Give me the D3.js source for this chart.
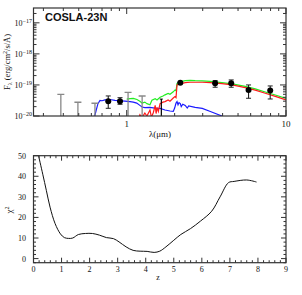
<!DOCTYPE html>
<html>
<head>
<meta charset="utf-8">
<script src="https://cdn.jsdelivr.net/npm/d3@7"></script>
<style>
  html, body { margin: 0; padding: 0; background: #fff; }
  svg { display: block; }
  text { font-family: "Liberation Serif", serif; fill: #111; }
</style>
</head>
<body>
<div id="chart"></div>
<script>
// observed photometry: wavelength (um), flux, low, high
var photLam = [0.766, 0.908, 2.17, 3.59, 4.53, 5.82, 7.96];
var photFlux = [3.0e-20, 3.0e-20, 1.18e-19, 1.13e-19, 1.13e-19, 6.9e-20, 6.6e-20];
var photLo = [1.77e-20, 2.38e-20, 1.15e-19, 8.43e-20, 8.43e-20, 3.72e-20, 3.53e-20];
var photHi = [4.42e-20, 3.89e-20, 1.21e-19, 1.38e-19, 1.45e-19, 1.0e-19, 9.28e-20];

// upper limits (gray) and the black one
var limLam = [0.386, 0.494, 0.632, 1.02, 1.25];
var limFlux = [5.0e-20, 2.77e-20, 2.57e-20, 5.73e-20, 4.4e-20];
var blackLimLam = [1.65];
var blackLimFlux = [3.5e-20];

// model templates
var greenLam = [1.0, 1.05, 1.1, 1.16, 1.21, 1.25, 1.3, 1.34, 1.4, 1.44, 1.51, 1.55, 1.62, 1.69, 1.74, 1.82, 1.87, 1.96, 2.01, 2.04, 2.07, 2.16, 2.33, 2.5, 2.69, 2.98, 3.35, 3.96, 4.59, 5.55, 6.41, 7.41, 8.57, 10];
var greenFlux = [3.5e-20, 3.6e-20, 3.7e-20, 3.4e-20, 3.0e-20, 2.6e-20, 2.8e-20, 2.5e-20, 2.3e-20, 3.2e-20, 3.6e-20, 3.3e-20, 4.0e-20, 4.4e-20, 4.8e-20, 5.3e-20, 5.0e-20, 6.0e-20, 6.9e-20, 6.5e-20, 1.13e-19, 1.25e-19, 1.38e-19, 1.40e-19, 1.37e-19, 1.36e-19, 1.30e-19, 1.18e-19, 1.08e-19, 8.95e-20, 7.43e-20, 5.94e-20, 4.76e-20, 3.67e-20];

var redLam = [1.19, 1.21, 1.25, 1.3, 1.34, 1.4, 1.43, 1.47, 1.51, 1.53, 1.55, 1.58, 1.62, 1.69, 1.74, 1.82, 1.87, 1.96, 2.01, 2.04, 2.07, 2.16, 2.33, 2.5, 2.69, 2.98, 3.35, 3.96, 4.59, 5.55, 6.41, 7.41, 8.57, 10];
var redFlux = [0.8e-20, 1.1e-20, 0.9e-20, 1.25e-20, 1.0e-20, 1.56e-20, 0.9e-20, 1.3e-20, 2.2e-20, 1.2e-20, 1.9e-20, 1.4e-20, 2.5e-20, 2.8e-20, 2.9e-20, 3.3e-20, 3.0e-20, 3.8e-20, 4.2e-20, 3.9e-20, 1.0e-19, 1.08e-19, 1.18e-19, 1.22e-19, 1.22e-19, 1.22e-19, 1.18e-19, 1.10e-19, 1.0e-19, 8.2e-20, 6.8e-20, 5.4e-20, 4.3e-20, 3.3e-20];

var blueLam = [0.60, 0.63, 0.645, 0.66, 0.68, 0.70, 0.73, 0.785, 0.844, 0.908, 0.976, 1.05, 1.1, 1.156, 1.21, 1.25, 1.3, 1.4, 1.5, 1.62, 1.74, 1.87, 1.96, 2.0, 2.04, 2.07, 2.1, 2.13, 2.17, 2.2, 2.25, 2.33, 2.4, 2.45, 2.69, 2.98, 3.35, 3.96, 4.2];
var blueFlux = [0.9e-20, 1.0e-20, 1.6e-20, 2.5e-20, 3.2e-20, 3.1e-20, 3.3e-20, 3.4e-20, 3.2e-20, 3.1e-20, 3.0e-20, 2.9e-20, 2.8e-20, 2.6e-20, 2.2e-20, 1.95e-20, 1.85e-20, 1.9e-20, 1.8e-20, 1.75e-20, 1.56e-20, 1.45e-20, 1.4e-20, 1.8e-20, 2.6e-20, 2.9e-20, 2.3e-20, 2.7e-20, 2.5e-20, 2.0e-20, 2.4e-20, 2.2e-20, 1.8e-20, 2.1e-20, 1.9e-20, 1.75e-20, 1.4e-20, 1.0e-20, 0.8e-20];

// chi2 vs redshift
var zVals = [0.18, 0.33, 0.46, 0.59, 0.77, 0.96, 1.1, 1.25, 1.4, 1.6, 1.85, 2.1, 2.35, 2.6, 2.85, 3.05, 3.3, 3.55, 3.8, 4.05, 4.3, 4.5, 4.72, 5.0, 5.25, 5.6, 5.95, 6.35, 6.65, 6.95, 7.15, 7.6, 7.95];
var chi2Vals = [50, 41, 33, 25, 17, 12, 10.2, 9.8, 10, 11.7, 12.2, 12.2, 11.4, 10.2, 9.7, 8.1, 5.7, 4, 3.6, 3.5, 3, 3.6, 5.7, 8.9, 11.7, 14.6, 18.2, 23, 30, 36.9, 37.5, 38.2, 37.2];

var xTicksTop = [1, 10];
var yTicksTop = [-20, -19, -18, -17];
var xTicksBot = [0, 1, 2, 3, 4, 5, 6, 7, 8, 9];
var yTicksBot = [0, 10, 20, 30, 40, 50];

var width = 302, height = 295;
var svg = d3.select("#chart").append("svg")
    .attr("width", width)
    .attr("height", height);

var frameCol = "#333";

// ---------- top panel ----------
var x = d3.scaleLog().domain([0.26, 10]).range([33.5, 286]);
var y = d3.scaleLog().domain([1e-20, 3e-17]).range([116, 8]);

svg.append("clipPath").attr("id", "clipTop")
  .append("rect")
    .attr("x", 33.5).attr("y", 8)
    .attr("width", 252.5).attr("height", 108);

var gTop = svg.append("g").attr("clip-path", "url(#clipTop)");

var line = d3.line()
    .x(function(d) { return x(d[0]); })
    .y(function(d) { return y(d[1]); });

function model(lams, fl, col) {
    gTop.append("path")
      .datum(d3.zip(lams, fl))
      .attr("d", line)
      .attr("fill", "none")
      .attr("stroke", col)
      .attr("stroke-width", 1.2);
}
model(blueLam, blueFlux, "#1a1aff");
model(greenLam, greenFlux, "#22ee22");
model(redLam, redFlux, "#ff1a1a");

// upper limits
limLam.forEach(function(l, i) {
    var xx = x(l), yy = y(limFlux[i]);
    gTop.append("line").attr("x1", xx).attr("x2", xx).attr("y1", yy).attr("y2", 117)
      .attr("stroke", "#888").attr("stroke-width", 1.3);
    gTop.append("line").attr("x1", xx - 3.5).attr("x2", xx + 3.5).attr("y1", yy).attr("y2", yy)
      .attr("stroke", "#888").attr("stroke-width", 1.3);
});
blackLimLam.forEach(function(l, i) {
    var xx = x(l), yy = y(blackLimFlux[i]);
    gTop.append("line").attr("x1", xx).attr("x2", xx).attr("y1", yy).attr("y2", 117)
      .attr("stroke", "#000").attr("stroke-width", 1.2);
    gTop.append("line").attr("x1", xx - 1.5).attr("x2", xx + 1.5).attr("y1", yy).attr("y2", yy)
      .attr("stroke", "#000").attr("stroke-width", 1);
});

// photometry
photLam.forEach(function(l, i) {
    var xx = x(l);
    gTop.append("line").attr("x1", xx).attr("x2", xx)
      .attr("y1", y(photLo[i])).attr("y2", y(photHi[i]))
      .attr("stroke", "#222").attr("stroke-width", 1.1);
    [photLo[i], photHi[i]].forEach(function(v) {
        gTop.append("line").attr("x1", xx - 2.5).attr("x2", xx + 2.5)
          .attr("y1", y(v)).attr("y2", y(v))
          .attr("stroke", "#222").attr("stroke-width", 1);
    });
    gTop.append("circle").attr("cx", xx).attr("cy", y(photFlux[i]))
      .attr("r", 3).attr("fill", "#000");
});

// frame + ticks
svg.append("rect").attr("x", 33.5).attr("y", 8).attr("width", 252.5).attr("height", 108)
  .attr("fill", "none").attr("stroke", frameCol).attr("stroke-width", 1.2);

var minorX = [];
[0.1, 1].forEach(function(d) {
    for (var k = 2; k <= 9; k++) minorX.push(k * d);
});
minorX = minorX.filter(function(v) { return v > 0.26 && v < 10; });
minorX.forEach(function(v) {
    svg.append("line").attr("x1", x(v)).attr("x2", x(v)).attr("y1", 116).attr("y2", 113)
      .attr("stroke", frameCol);
    svg.append("line").attr("x1", x(v)).attr("x2", x(v)).attr("y1", 8).attr("y2", 11)
      .attr("stroke", frameCol);
});
xTicksTop.forEach(function(v) {
    svg.append("line").attr("x1", x(v)).attr("x2", x(v)).attr("y1", 116).attr("y2", 110)
      .attr("stroke", frameCol);
    svg.append("line").attr("x1", x(v)).attr("x2", x(v)).attr("y1", 8).attr("y2", 14)
      .attr("stroke", frameCol);
    svg.append("text").attr("x", x(v)).attr("y", 127)
      .attr("text-anchor", "middle").style("font-size", "9px").text(v);
});

var minorY = [];
[-20, -19, -18, -17].forEach(function(e) {
    for (var k = 2; k <= 9; k++) minorY.push(k * Math.pow(10, e));
});
minorY = minorY.filter(function(v) { return v < 3e-17; });
minorY.forEach(function(v) {
    svg.append("line").attr("x1", 33.5).attr("x2", 36.5).attr("y1", y(v)).attr("y2", y(v))
      .attr("stroke", frameCol);
    svg.append("line").attr("x1", 286).attr("x2", 283).attr("y1", y(v)).attr("y2", y(v))
      .attr("stroke", frameCol);
});
yTicksTop.forEach(function(e) {
    var yy = y(Math.pow(10, e));
    svg.append("line").attr("x1", 33.5).attr("x2", 39.5).attr("y1", yy).attr("y2", yy)
      .attr("stroke", frameCol);
    svg.append("line").attr("x1", 286).attr("x2", 280).attr("y1", yy).attr("y2", yy)
      .attr("stroke", frameCol);
    var t = svg.append("text").attr("x", 32).attr("y", yy + 3)
      .attr("text-anchor", "end").style("font-size", "8px");
    t.append("tspan").text("10");
    t.append("tspan").attr("dy", -3).style("font-size", "6px").text("\u2212" + (-e));
});

svg.append("text").attr("x", 45).attr("y", 21)
  .style("font-family", "'Liberation Sans', Arial, sans-serif")
  .style("font-weight", "bold").style("font-size", "11px")
  .text("COSLA-23N");

svg.append("text").attr("x", 160).attr("y", 137).attr("text-anchor", "middle")
  .style("font-size", "9px").text("\u03bb(\u03bcm)");

var yl = svg.append("text")
  .attr("transform", "translate(10,62) rotate(-90)")
  .attr("text-anchor", "middle").style("font-size", "8.5px");
yl.append("tspan").text("F");
yl.append("tspan").attr("dy", 2).style("font-size", "6px").text("\u03bb");
yl.append("tspan").attr("dy", -2).text(" (erg/cm");
yl.append("tspan").attr("dy", -3).style("font-size", "6px").text("2");
yl.append("tspan").attr("dy", 3).text("/s/\u00c5)");

// ---------- bottom panel ----------
var xb = d3.scaleLinear().domain([0, 9]).range([33.5, 286]);
var yb = d3.scaleLinear().domain([-2, 50]).range([262.7, 155.7]);

svg.append("path")
  .datum(d3.zip(zVals, chi2Vals))
  .attr("d", d3.line()
      .x(function(d) { return xb(d[0]); })
      .y(function(d) { return yb(d[1]); })
      .curve(d3.curveCatmullRom))
  .attr("fill", "none").attr("stroke", "#111").attr("stroke-width", 1);

svg.append("rect").attr("x", 33.5).attr("y", 155.7).attr("width", 252.5).attr("height", 107)
  .attr("fill", "none").attr("stroke", frameCol).attr("stroke-width", 1.2);

d3.range(0, 9.01, 0.2).forEach(function(v) {
    var major = Math.abs(v - Math.round(v)) < 1e-6;
    var len = major ? 5 : 2.5;
    svg.append("line").attr("x1", xb(v)).attr("x2", xb(v)).attr("y1", 262.7).attr("y2", 262.7 - len)
      .attr("stroke", frameCol);
    svg.append("line").attr("x1", xb(v)).attr("x2", xb(v)).attr("y1", 155.7).attr("y2", 155.7 + len)
      .attr("stroke", frameCol);
});
xTicksBot.forEach(function(v) {
    svg.append("text").attr("x", xb(v)).attr("y", 272)
      .attr("text-anchor", "middle").style("font-size", "8px").text(v);
});
d3.range(-2, 50.01, 2).forEach(function(v) {
    var major = v % 10 === 0;
    var len = major ? 5 : 2.5;
    svg.append("line").attr("x1", 33.5).attr("x2", 33.5 + len).attr("y1", yb(v)).attr("y2", yb(v))
      .attr("stroke", frameCol);
    svg.append("line").attr("x1", 286).attr("x2", 286 - len).attr("y1", yb(v)).attr("y2", yb(v))
      .attr("stroke", frameCol);
});
yTicksBot.forEach(function(v) {
    svg.append("text").attr("x", 26).attr("y", yb(v) + 3)
      .attr("text-anchor", "end").style("font-size", "8px").text(v);
});

svg.append("text").attr("x", 158).attr("y", 280).attr("text-anchor", "middle")
  .style("font-size", "8px").text("z");

var cl = svg.append("text")
  .attr("transform", "translate(12,210) rotate(-90)")
  .attr("text-anchor", "middle").style("font-size", "9px");
cl.append("tspan").text("\u03c7");
cl.append("tspan").attr("dy", -3).style("font-size", "6px").text("2");
</script>
</body>
</html>
